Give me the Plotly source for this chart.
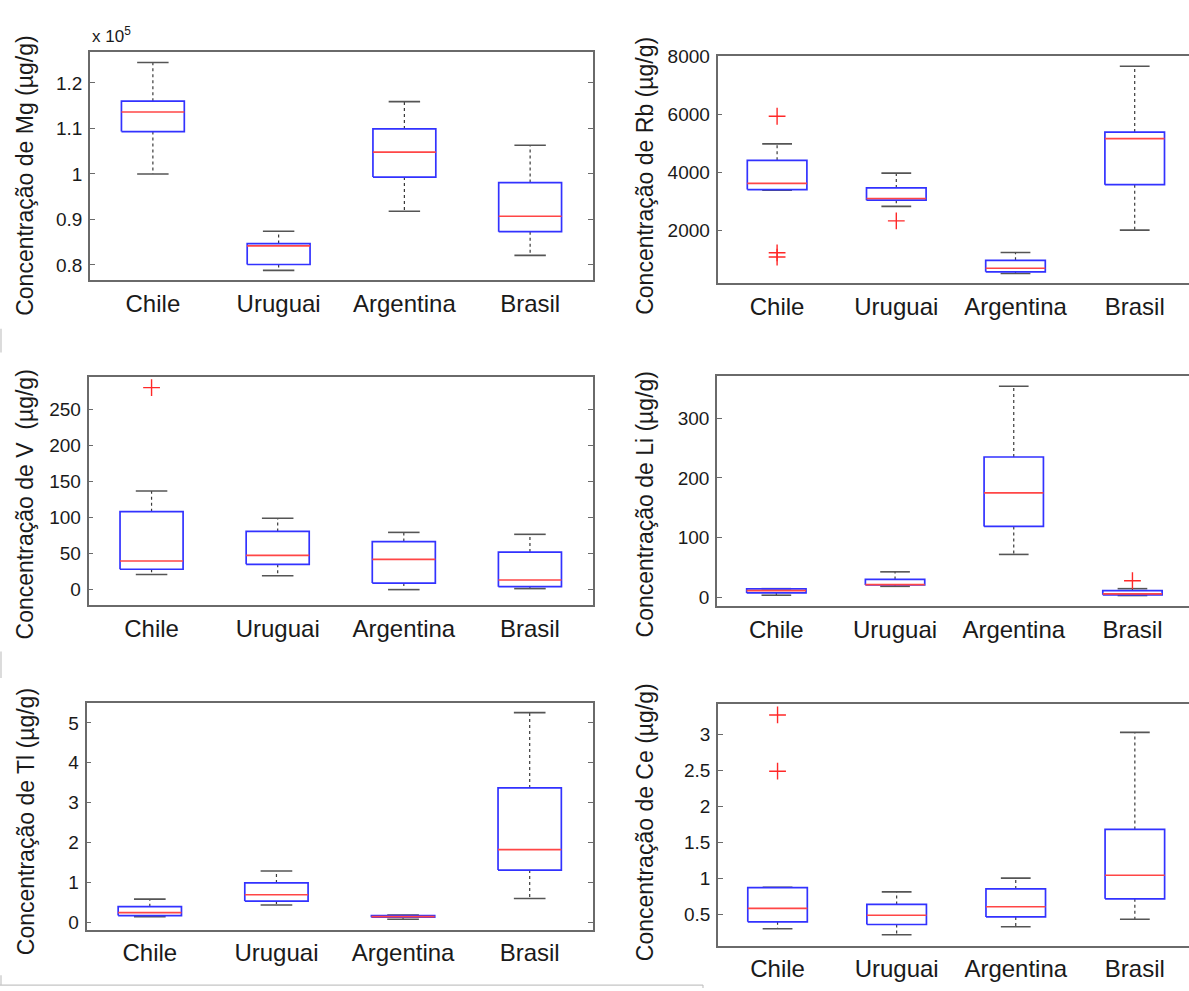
import plotly.graph_objects as go

# ---------------- data ----------------
categories = ["Chile", "Uruguai", "Argentina", "Brasil"]

# Mg (µg/g)
mg_lower = [100000, 78800, 91800, 82100]
mg_q1 = [109300, 80100, 99300, 87300]
mg_median = [113600, 84200, 104800, 90700]
mg_q3 = [116000, 84700, 109900, 98100]
mg_upper = [124500, 87400, 115900, 106300]
mg_outliers = [[], [], [], []]

# Rb (µg/g)
rb_lower = [3380, 2820, 500, 2000]
rb_q1 = [3400, 3035, 557, 3568]
rb_median = [3614, 3091, 682, 5159]
rb_q3 = [4409, 3455, 955, 5386]
rb_upper = [4977, 3966, 1227, 7659]
rb_outliers = [[5932, 1216, 1068], [2318], [], []]

# V (µg/g)
v_lower = [21, 19.2, 0, 1.4]
v_q1 = [28.3, 35.2, 9.1, 4.1]
v_median = [39.8, 47.5, 42, 13.3]
v_q3 = [108.3, 80.9, 66.7, 52.1]
v_upper = [137, 99.2, 79.5, 76.8]
v_outliers = [[280.6], [], [], []]

# Li (µg/g)
li_lower = [3.3, 18.2, 71.7, 2.8]
li_q1 = [7.2, 20.4, 118.6, 3.9]
li_median = [11, 21, 174.9, 5.5]
li_q3 = [13.8, 29.8, 235, 11]
li_upper = [14.3, 42.5, 353.6, 14.3]
li_outliers = [[], [], [], [27.6]]

# Tl (µg/g)
tl_lower = [0.14, 0.43, 0.075, 0.596]
tl_q1 = [0.166, 0.53, 0.124, 1.308]
tl_median = [0.24, 0.687, 0.14, 1.821]
tl_q3 = [0.389, 0.985, 0.166, 3.369]
tl_upper = [0.58, 1.283, 0.18, 5.257]
tl_outliers = [[], [], [], []]

# Ce (µg/g)
ce_lower = [0.304, 0.222, 0.331, 0.436]
ce_q1 = [0.40, 0.363, 0.468, 0.719]
ce_median = [0.587, 0.491, 0.609, 1.047]
ce_q3 = [0.874, 0.641, 0.856, 1.682]
ce_upper = [0.879, 0.815, 1.006, 3.027]
ce_outliers = [[3.269, 2.489], [], [], []]

mg_ticks = [80000, 90000, 100000, 110000, 120000]
mg_ticktext = ["0.8", "0.9", "1", "1.1", "1.2"]
rb_ticks = [2000, 4000, 6000, 8000]
v_ticks = [0, 50, 100, 150, 200, 250]
li_ticks = [0, 100, 200, 300]
tl_ticks = [0, 1, 2, 3, 4, 5]
ce_ticks = [0.5, 1, 1.5, 2, 2.5, 3]
ce_ticktext = ["0.5", "1", "1.5", "2", "2.5", "3"]

ylabels = ["Concentração de Mg (µg/g)", "Concentração de Rb (µg/g)",
           "Concentração de V  (µg/g)", "Concentração de Li (µg/g)",
           "Concentração de Tl (µg/g)", "Concentração de Ce (µg/g)"]

# ---------------- layout geometry ----------------
W, H = 1189, 991
FONT = "Liberation Sans, Arial, sans-serif"
TXT = "#1a1a1a"
AXC = "#6a6a6a"

panels = [
    dict(st=(mg_lower, mg_q1, mg_median, mg_q3, mg_upper), out=mg_outliers, tv=mg_ticks, tt=mg_ticktext,
         box=(90, 593, 43, 274), xr=[0.5, 4.5], yr=[76600, 126700], left=True, tpos=(25, 168)),
    dict(st=(rb_lower, rb_q1, rb_median, rb_q3, rb_upper), out=rb_outliers, tv=rb_ticks, tt=None,
         box=(717.5, 1189, 47, 277), xr=[0.5, 0.5 + (1189 - 717.5) / 119.2], yr=[160, 8000], left=False,
         tpos=(645, 168)),
    dict(st=(v_lower, v_q1, v_median, v_q3, v_upper), out=v_outliers, tv=v_ticks, tt=None,
         box=(88.5, 593, 372, 603), xr=[0.5, 4.5], yr=[-21.5, 295.2], left=True, tpos=(25, 501)),
    dict(st=(li_lower, li_q1, li_median, li_q3, li_upper), out=li_outliers, tv=li_ticks, tt=None,
         box=(717, 1189, 371, 604), xr=[0.5, 0.5 + 472 / 118.7], yr=[-14.9, 370.6], left=False,
         tpos=(645, 501)),
    dict(st=(tl_lower, tl_q1, tl_median, tl_q3, tl_upper), out=tl_outliers, tv=tl_ticks, tt=None,
         box=(86.5, 593, 702, 932), xr=[0.5, 4.5], yr=[-0.19, 5.505], left=True, tpos=(26, 823)),
    dict(st=(ce_lower, ce_q1, ce_median, ce_q3, ce_upper), out=ce_outliers, tv=ce_ticks, tt=ce_ticktext,
         box=(718, 1189, 703, 948), xr=[0.5, 0.5 + 471 / 119.1], yr=[0.071, 3.424], left=False,
         tpos=(645, 823)),
]

fig = go.Figure()
layout = dict(width=W, height=H, margin=dict(l=0, r=0, t=0, b=0), showlegend=False,
              paper_bgcolor="white", plot_bgcolor="white",
              font=dict(family=FONT, color=TXT))
annotations = []
BW = 0.25   # half box width
CW = 0.125  # half cap width

for i, p in enumerate(panels, start=1):
    xa = "x" if i == 1 else f"x{i}"
    ya = "y" if i == 1 else f"y{i}"
    lower, q1, med, q3, upper = p["st"]
    pos = list(range(1, len(categories) + 1))

    wx, wy, cx, cy, bx, by, mx, my, ox, oy = [], [], [], [], [], [], [], [], [], []
    for c, lw, a, m, b, uw, outs in zip(pos, lower, q1, med, q3, upper, p["out"]):
        wx += [c, c, None, c, c, None]
        wy += [b, uw, None, a, lw, None]
        cx += [c - CW, c + CW, None, c - CW, c + CW, None]
        cy += [uw, uw, None, lw, lw, None]
        bx += [c - BW, c + BW, c + BW, c - BW, c - BW, None]
        by += [a, a, b, b, a, None]
        mx += [c - BW, c + BW, None]
        my += [m, m, None]
        ox += [c] * len(outs)
        oy += list(outs)

    fig.add_trace(go.Scatter(x=wx, y=wy, mode="lines", xaxis=xa, yaxis=ya, hoverinfo="skip",
                             line=dict(color="#3a3a3a", width=1.2, dash="dot")))
    fig.add_trace(go.Scatter(x=cx, y=cy, mode="lines", xaxis=xa, yaxis=ya, hoverinfo="skip",
                             line=dict(color="#555555", width=1.6)))
    fig.add_trace(go.Scatter(x=bx, y=by, mode="lines", xaxis=xa, yaxis=ya, hoverinfo="skip",
                             line=dict(color="rgb(50,50,255)", width=1.7)))
    fig.add_trace(go.Scatter(x=mx, y=my, mode="lines", xaxis=xa, yaxis=ya, hoverinfo="skip",
                             line=dict(color="rgb(255,70,70)", width=1.6)))
    if ox:
        fig.add_trace(go.Scatter(x=ox, y=oy, mode="markers", xaxis=xa, yaxis=ya, hoverinfo="skip",
                                 marker=dict(symbol="cross-thin", size=12,
                                             line=dict(color="rgb(255,40,40)", width=1.4))))

    l, r, t, b = p["box"]
    xkey = "xaxis" if i == 1 else f"xaxis{i}"
    ykey = "yaxis" if i == 1 else f"yaxis{i}"
    layout[xkey] = dict(domain=[l / W, r / W], anchor=ya, range=p["xr"], tickmode="array",
                        tickvals=pos, ticktext=categories, ticks="", showgrid=False, zeroline=False,
                        showline=True, linecolor=AXC, linewidth=1.6, mirror=True,
                        tickfont=dict(size=24, color=TXT, family=FONT), ticklabelstandoff=1,
                        fixedrange=True)
    ydict = dict(domain=[1 - b / H, 1 - t / H], anchor=xa, range=p["yr"], tickmode="array",
                 tickvals=p["tv"], ticks="inside", ticklen=5, tickwidth=1.2, tickcolor=AXC,
                 showgrid=False, zeroline=False, showline=True, linecolor=AXC, linewidth=1.6,
                 mirror="ticks" if p["left"] else False,
                 tickfont=dict(size=19, color=TXT, family=FONT), ticklabelstandoff=2,
                 fixedrange=True)
    if p["tt"] is not None:
        ydict["ticktext"] = p["tt"]
    layout[ykey] = ydict

    tx, ty = p["tpos"]
    annotations.append(dict(text=ylabels[i - 1], x=tx / W, y=1 - ty / H, xref="paper", yref="paper",
                            xanchor="center", yanchor="middle", textangle=-90, showarrow=False,
                            font=dict(size=23, color=TXT, family=FONT)))

# exponent label of the Mg axis
annotations.append(dict(text="x 10<sup>5</sup>", x=90 / W, y=1 - 25 / H, xref="paper", yref="paper",
                        xanchor="left", yanchor="middle", showarrow=False,
                        font=dict(size=17, color=TXT, family=FONT)))
layout["annotations"] = annotations

# faint border fragments of the composed picture
frag = dict(type="line", xref="paper", yref="paper", line=dict(color="#c4c4c4", width=1.2))
layout["shapes"] = [
    dict(frag, x0=0, x1=703 / W, y0=1 - 988 / H, y1=1 - 988 / H),
    dict(frag, x0=1 / W, x1=1 / W, y0=1 - 978 / H, y1=1 - 988 / H),
    dict(frag, x0=703 / W, x1=703 / W, y0=1 - 988 / H, y1=0),
    dict(frag, x0=1 / W, x1=1 / W, y0=1 - 323 / H, y1=1 - 347 / H),
    dict(frag, x0=1 / W, x1=1 / W, y0=1 - 650 / H, y1=1 - 677 / H),
]

fig.update_layout(**layout)
fig.write_html("out.html", config={"displayModeBar": False},
               post_script="document.body.style.margin='0';document.body.style.overflow='hidden';")
